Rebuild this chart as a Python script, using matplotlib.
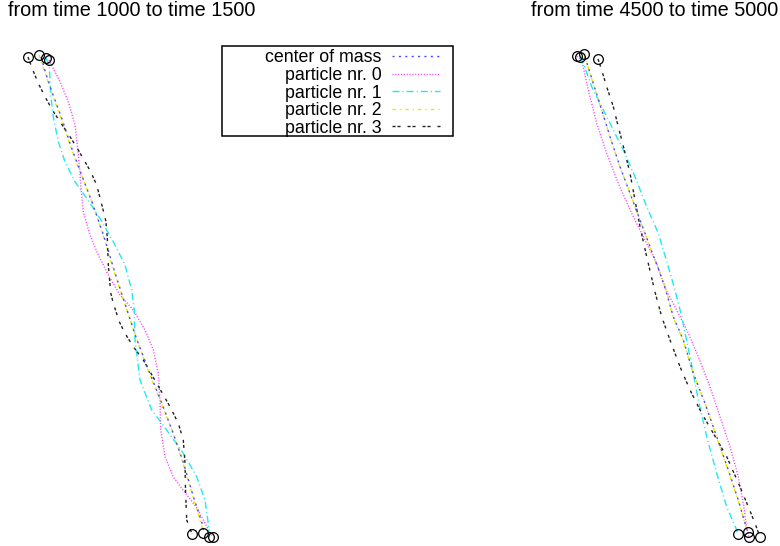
import matplotlib
matplotlib.use("Agg")
from matplotlib import pyplot as plt
from matplotlib.lines import Line2D
from matplotlib.patches import Rectangle

plt.rcParams["font.family"] = ["Liberation Sans", "DejaVu Sans"]

# positions (screen units, y grows downwards)

# from time 1000 to time 1500
early_com_x = [41, 46, 52, 62, 70.5, 80.5, 92, 103.5, 113.5, 121.5, 127, 137, 148.5, 160.5, 172, 183.5, 193.5, 202, 204]
early_com_y = [57, 74, 92, 119, 145, 172, 202, 235, 268, 293, 310, 340, 370, 400, 430, 463, 497, 523, 534]
early_p0_x = [49, 60, 68.3, 75, 77.3, 79.3, 81, 83.3, 90, 98.3, 108.3, 120, 133.3, 145, 153.3, 158.3, 160, 160.7, 165, 173.3, 183, 197, 207, 213]
early_p0_y = [60, 81.7, 101.7, 125, 145, 165, 188.3, 211.7, 235, 255, 275, 295, 310, 330, 350, 373.3, 400, 430, 456.7, 477, 490, 508, 527, 537]
early_p1_x = [46, 49.3, 50.7, 53.3, 58.3, 65, 75, 86.7, 100, 113.3, 125, 131.7, 134.3, 135, 140, 151.7, 166.7, 183.3, 196.7, 205, 208.3, 209]
early_p1_y = [58, 65, 95, 116.7, 141.7, 161.7, 181.7, 198.3, 218.3, 241.7, 265, 290, 310, 340, 380, 410, 430, 453.3, 476.7, 500, 523.3, 537]
early_p2_x = [39, 44, 51, 61, 70, 80, 92, 103, 113, 121, 127, 137, 148, 160, 172, 183, 193, 201, 203]
early_p2_y = [55, 70, 91, 118, 145, 172, 202, 235, 268, 293, 310, 340, 370, 400, 430, 463, 497, 523, 533]
early_p3_x = [28, 32, 38.3, 45, 52.3, 60, 68.3, 78.3, 85, 90.7, 96.7, 102.7, 106, 107.3, 108.3, 110.7, 113.3, 119.3, 125,
              133.3, 143.3, 156.7, 170, 178.3, 183.3, 185, 185.5, 186.7, 192]
early_p3_y = [57, 68, 83.3, 96.7, 110, 121.7, 134, 150, 161.7, 171.7, 185, 208.3, 221.7, 238.3, 265, 292.7, 303.3, 321.7, 333.3,
              346.7, 360, 383.3, 406.7, 423.3, 440, 463.3, 490, 520, 534]

# from time 4500 to time 5000
late_com_x = [585, 593.3, 601.7, 610, 620, 630, 640, 650, 660, 666, 673.3, 683.3, 693.3, 705, 716.7, 728.3, 738.3, 746, 748.5]
late_com_y = [57, 83.3, 110, 136.7, 166.7, 193.3, 220, 246.7, 273.3, 291, 316.7, 340, 373.3, 403.3, 436.7, 470, 500, 526.7, 534]
late_p0_x = [577, 581.7, 588.3, 596.7, 606.7, 618.3, 631.7, 645, 656.7, 666, 676.7, 688.3, 698.3, 710, 720, 730, 738.3, 743.3, 746.7, 749]
late_p0_y = [56, 60, 90, 123.3, 153.3, 183.3, 213.3, 240, 263.3, 290, 310, 333.3, 356.7, 386.7, 416.7, 446.7, 476.7, 503.3, 528, 537]
late_p1_x = [580, 583.3, 591.7, 601.7, 611.7, 623.3, 635, 646.7, 658.3, 668.3, 675, 681.7, 690, 698.3, 706.7, 716.7, 726.7, 736.7, 737.7]
late_p1_y = [57, 63.3, 86.7, 106.7, 126.7, 150, 176.7, 206.7, 233.3, 266.7, 290, 316.7, 356.7, 400, 436.7, 473.3, 506.7, 530, 534]
late_p2_x = [584, 586, 593, 601.5, 610, 620, 630, 640, 650, 660, 666.5, 673, 683, 693, 705, 716.5, 728, 738, 746, 748]
late_p2_y = [54, 60, 83, 110, 137, 167, 193, 220, 247, 273, 291, 317, 340, 373, 403, 437, 470, 500, 527, 532]
late_p3_x = [598, 601.7, 606.7, 613.3, 618.3, 624.3, 630, 635, 640, 646.7, 655, 661.7, 670, 680, 690, 701.7, 713.3, 726.7, 740, 748.3, 755, 760]
late_p3_y = [59, 70, 86.7, 106.7, 126.7, 150, 173.3, 200, 226.7, 256.7, 292, 316.7, 340, 366.7, 390, 413.3, 433.3, 456.7, 486.7, 506.7, 523.3, 537]

labels = ["center of mass", "particle nr. 0", "particle nr. 1", "particle nr. 2", "particle nr. 3"]
colors = ["#4848ff", "#ff30ff", "#20e8f0", "#e8e800", "#222222"]
dashes = [(0, (1.5, 3.1)), (0, (0.75, 1.3)), (0, (5.0, 2.2, 0.8, 2.2)), (0, (2.4, 2.9, 1.0, 2.9)), (0, (2.2, 1.4, 2.2, 5.0))]

fig = plt.figure(figsize=(7.8, 5.46), dpi=100)
ax1 = fig.add_axes([0, 0, 0.5, 1])
ax2 = fig.add_axes([0.5, 0, 0.5, 1])

panels = [
    (ax1, (0, 390), [(early_com_x, early_com_y), (early_p0_x, early_p0_y), (early_p1_x, early_p1_y),
                     (early_p2_x, early_p2_y), (early_p3_x, early_p3_y)]),
    (ax2, (390, 780), [(late_com_x, late_com_y), (late_p0_x, late_p0_y), (late_p1_x, late_p1_y),
                       (late_p2_x, late_p2_y), (late_p3_x, late_p3_y)]),
]

for ax, xlim, series in panels:
    # draw yellow first so the centre of mass dashes sit on top of it
    for i in [1, 2, 3, 4, 0]:
        xs, ys = series[i]
        ax.plot(xs, ys, color=colors[i], lw=1.0, linestyle=dashes[i])
    # open circles at start and end of each particle
    for xs, ys in series[1:]:
        ax.plot([xs[0], xs[-1]], [ys[0], ys[-1]], "o", ms=7, mfc="none", mec="black", mew=0.9)
    ax.set_xlim(*xlim)
    ax.set_ylim(546, 0)
    ax.axis("off")

fig.text(8 / 780, 1 - 11 / 546, "from time 1000 to time 1500", fontsize=14.3, ha="left", va="center")
fig.text(778 / 780, 1 - 11 / 546, "from time 4500 to time 5000", fontsize=14.3, ha="right", va="center")

handles = [Line2D([], [], color=colors[i], lw=1.0, linestyle=dashes[i]) for i in range(5)]
fig.legend(handles, labels, loc="upper right", bbox_to_anchor=(440 / 780, 1 - 49.5 / 546),
           markerfirst=False, frameon=False, fontsize=12.8, handlelength=2.7, handletextpad=0.6,
           labelspacing=0.03, borderpad=0, borderaxespad=0)
fig.patches.append(Rectangle((222 / 780, 1 - 136 / 546), 231 / 780, 90 / 546, transform=fig.transFigure,
                             fill=False, edgecolor="black", lw=1.1))

plt.savefig("out.png", dpi=100)
